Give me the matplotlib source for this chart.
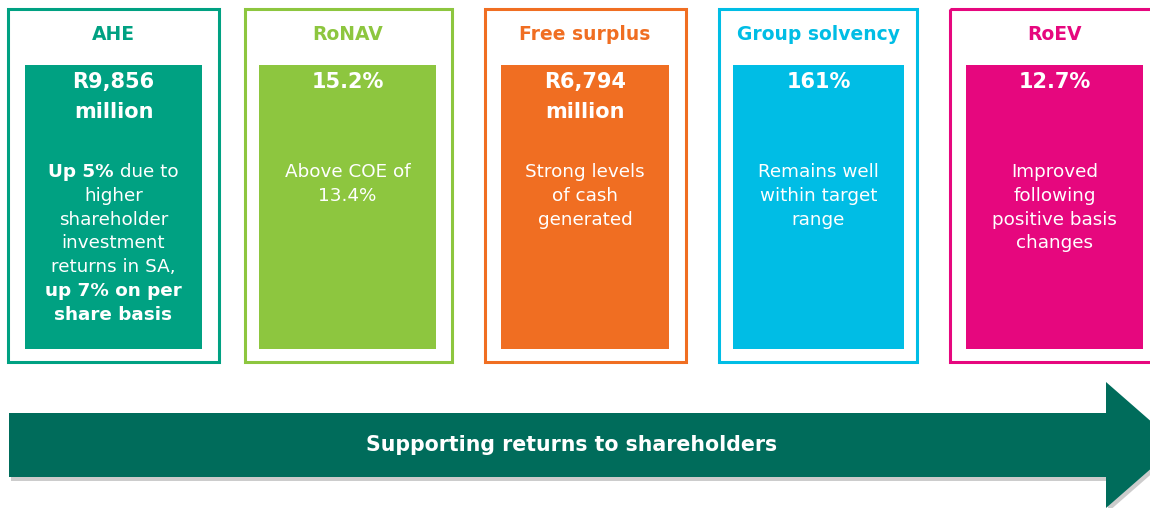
import matplotlib
matplotlib.use("Agg")
import matplotlib.pyplot as plt
from matplotlib.patches import Rectangle, Polygon

# ---- data ----
titles = ["AHE", "RoNAV", "Free surplus", "Group solvency", "RoEV"]
values = [["R9,856", "million"], ["15.2%"], ["R6,794", "million"], ["161%"], ["12.7%"]]
# each description line is a list of (text, bold) segments
descriptions = [
    [[("Up 5%", True), (" due to", False)],
     [("higher", False)],
     [("shareholder", False)],
     [("investment", False)],
     [("returns in SA,", False)],
     [("up 7% on per", True)],
     [("share basis", True)]],
    [[("Above COE of", False)], [("13.4%", False)]],
    [[("Strong levels", False)], [("of cash", False)], [("generated", False)]],
    [[("Remains well", False)], [("within target", False)], [("range", False)]],
    [[("Improved", False)], [("following", False)], [("positive basis", False)], [("changes", False)]],
]
banner_text = "Supporting returns to shareholders"

colors = ["#00A182", "#8DC63F", "#F06E22", "#00BDE5", "#E6077E"]
outer = [(8, 219), (245, 452), (485, 686), (719, 917), (950, 1160)]
inner = [(25, 202), (259, 436), (501, 669), (733, 904), (966, 1143)]

FONT = "DejaVu Sans"
fig = plt.figure(figsize=(11.5, 5.08), dpi=100)
ax = fig.add_axes([0, 0, 1, 1])
ax.set_xlim(0, 1150)
ax.set_ylim(508, 0)
ax.axis("off")

fig.canvas.draw()
renderer = fig.canvas.get_renderer()

def text_width(s, size, bold):
    t = ax.text(0, 0, s, fontsize=size, fontweight="bold" if bold else "normal", family=FONT)
    bb = t.get_window_extent(renderer=renderer)
    t.remove()
    return bb.width  # pixels == data units (x)

def seg_line(cx, y, segs, size, color="white"):
    widths = [text_width(s, size, b) for s, b in segs]
    total = sum(widths)
    x = cx - total / 2
    for (s, b), w in zip(segs, widths):
        ax.text(x, y, s, fontsize=size, fontweight="bold" if b else "normal",
                family=FONT, color=color, ha="left", va="center")
        x += w

for i in range(5):
    c = colors[i]
    ox0, ox1 = outer[i]
    ix0, ix1 = inner[i]
    ax.add_patch(Rectangle((ox0, 9), ox1 - ox0, 353, fill=False, edgecolor=c, linewidth=2.2))
    ax.add_patch(Rectangle((ix0, 65), ix1 - ix0, 284, facecolor=c, edgecolor="none"))
    cx = (ix0 + ix1) / 2
    ax.text(cx, 35, titles[i], fontsize=13.5, fontweight="bold", family=FONT,
            color=c, ha="center", va="center")
    for k, v in enumerate(values[i]):
        ax.text(cx, 82 + 30 * k, v, fontsize=15, fontweight="bold", family=FONT,
                color="white", ha="center", va="center")
    for k, segs in enumerate(descriptions[i]):
        seg_line(cx, 172 + 23.8 * k, segs, 13.2)

# arrow banner
body_top, body_bot = 413, 477
shaft_end = 1106
tip_x = 1178
head_top, head_bot = 382, 508
mid = (body_top + body_bot) / 2
pts = [(9, body_top), (shaft_end, body_top), (shaft_end, head_top), (tip_x, mid),
       (shaft_end, head_bot), (shaft_end, body_bot), (9, body_bot)]
shadow = [(x + 2, y + 4) for x, y in pts]
ax.add_patch(Polygon(shadow, closed=True, facecolor="#9a9a9a", edgecolor="none", alpha=0.5))
ax.add_patch(Polygon(pts, closed=True, facecolor="#006C5B", edgecolor="none"))
ax.text(572, mid, banner_text, fontsize=14.8, fontweight="bold", family=FONT,
        color="white", ha="center", va="center")

fig.savefig("out.png", dpi=100, facecolor="white")
